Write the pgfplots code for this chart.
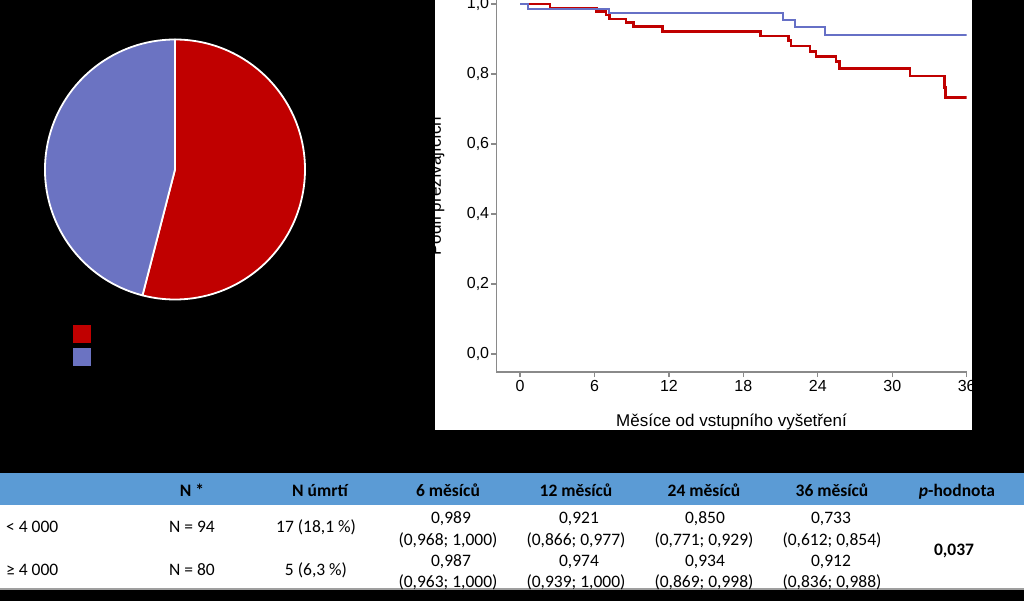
\documentclass[border=0pt]{standalone}
\usepackage{pgfplots}
\pgfplotsset{compat=1.18}
\usepackage{fontspec}
\setmainfont{Liberation Sans}
\newfontfamily\calibri{Carlito}
\definecolor{kmred}{HTML}{C00000}
\definecolor{kmblue}{HTML}{6670C6}
\definecolor{piered}{HTML}{C00000}
\definecolor{pieblue}{HTML}{6B73C2}
\definecolor{hdrblue}{HTML}{5B9BD5}
\definecolor{axgray}{HTML}{8A8A8A}
\newcommand{\tf}{\calibri\fontsize{17.5pt}{21pt}\selectfont}
\begin{document}
\begin{tikzpicture}
\path[use as bounding box] (0,0) rectangle (1024pt,-601pt);
\clip (0,0) rectangle (1024pt,-601pt);
\fill[black] (0,0) rectangle (1024pt,-601pt);
% KM panel
\fill[white] (434.5pt,0) rectangle (971.7pt,-430pt);
% table background
\fill[hdrblue] (0,-472.7pt) rectangle (1024pt,-505pt);
\fill[white] (0,-505pt) rectangle (1024pt,-589pt);
\draw[gray!75, line width=1.5pt] (0,-589pt) -- (1024pt,-589pt);

% pie chart
\pgfmathsetmacro{\redang}{94/(94+80)*360}
\pgfmathsetmacro{\endang}{90-\redang}
\begin{axis}[hide axis, scale only axis, width=260pt, height=260pt,
  xmin=-1, xmax=1, ymin=-1, ymax=1, at={(175pt,-169.5pt)}, anchor=center, clip=false]
\filldraw[fill=piered, draw=white, line width=1.8pt, line join=round]
  (axis cs:0,0) -- (axis cs:0,1) arc[start angle=90, end angle=\endang, radius=130pt] -- cycle;
\filldraw[fill=pieblue, draw=white, line width=1.8pt, line join=round]
  (axis cs:0,0) -- (axis cs:{cos(\endang)},{sin(\endang)}) arc[start angle=\endang, end angle=-270, radius=130pt] -- cycle;
\end{axis}
% legend squares
\fill[piered] (73pt,-325pt) rectangle (90.5pt,-342.5pt);
\fill[pieblue] (73pt,-348pt) rectangle (90.5pt,-365.5pt);

% Kaplan-Meier
\begin{axis}[scale only axis, width=470.4pt, height=378.5pt,
  at={(496.3pt,-372pt)}, anchor=south west,
  xmin=-1.91, xmax=36, ymin=-0.0514, ymax=1.03,
  axis x line=bottom, axis y line=left,
  every outer x axis line/.append style={-, axgray, line width=1.2pt},
  every outer y axis line/.append style={-, axgray, line width=1.2pt},
  axis line style={-},
  xtick={0,6,12,18,24,30,36}, ytick={0,0.2,0.4,0.6,0.8,1.0},
  tick align=outside, major tick length=5pt,
  tick style={axgray, line width=1.2pt},
  /pgf/number format/assume math mode=true,
  ticklabel style={font=\fontsize{16pt}{19pt}\selectfont, text=black},
  yticklabel style={inner xsep=2pt, /pgf/number format/.cd, fixed, fixed zerofill, precision=1, use comma},
  xlabel={Měsíce od vstupního vyšetření}, ylabel={Podíl přežívajících},
  label style={font=\fontsize{17pt}{20pt}\selectfont, text=black},
  xlabel style={at={(axis description cs:0.5,-0.1453)}, anchor=base},
  ylabel style={at={(axis description cs:-0.1176,0.4914)}, anchor=base},
]
\addplot[const plot, kmred, line width=2.5pt] coordinates {
(0,1.000) (2.42,0.989) (6.18,0.979) (6.93,0.968) (7.2,0.957) (8.54,0.947)
(9.13,0.936) (11.5,0.922) (19.4,0.909) (21.62,0.895) (21.84,0.880)
(23.37,0.864) (23.85,0.850) (25.46,0.835) (25.73,0.816) (31.43,0.794)
(34.2,0.762) (34.3,0.733) (36,0.733)};
\addplot[const plot, kmblue, line width=2pt] coordinates {
(0,1.000) (0.67,0.987) (7.17,0.974) (21.17,0.954) (22.2,0.933) (24.6,0.912) (36,0.912)};
\end{axis}

% table header
\begin{scope}[every node/.style={anchor=base, font=\tf\bfseries, text=black, inner sep=0pt}]
\node at (192pt,-496pt) {N *};
\node at (320pt,-496pt) {N úmrtí};
\node at (448pt,-496pt) {6 měsíců};
\node at (576pt,-496pt) {12 měsíců};
\node at (704pt,-496pt) {24 měsíců};
\node at (832pt,-496pt) {36 měsíců};
\node at (957pt,-496pt) {\textit{p}-hodnota};
\node at (954pt,-555pt) {0,037};
\end{scope}
\begin{scope}[every node/.style={anchor=base, font=\tf, text=black, inner sep=0pt}]
\node[anchor=base west] at (6pt,-532.7pt) {< 4 000};
\node[anchor=base west] at (6pt,-575pt) {≥ 4 000};
\node at (192pt,-532.7pt) {N = 94};
\node at (192pt,-575pt) {N = 80};
\node at (316pt,-532.7pt) {17 (18,1 \%)};
\node at (316pt,-575pt) {5 (6,3 \%)};
% 6 months
\node at (451pt,-523pt) {0,989};
\node at (448pt,-545pt) {(0,968; 1,000)};
\node at (451pt,-566pt) {0,987};
\node at (448pt,-587pt) {(0,963; 1,000)};
% 12 months
\node at (579pt,-523pt) {0,921};
\node at (576pt,-545pt) {(0,866; 0,977)};
\node at (579pt,-566pt) {0,974};
\node at (576pt,-587pt) {(0,939; 1,000)};
% 24 months
\node at (705pt,-523pt) {0,850};
\node at (704pt,-545pt) {(0,771; 0,929)};
\node at (705pt,-566pt) {0,934};
\node at (704pt,-587pt) {(0,869; 0,998)};
% 36 months
\node at (831pt,-523pt) {0,733};
\node at (832pt,-545pt) {(0,612; 0,854)};
\node at (831pt,-566pt) {0,912};
\node at (832pt,-587pt) {(0,836; 0,988)};
\end{scope}
\end{tikzpicture}
\end{document}
